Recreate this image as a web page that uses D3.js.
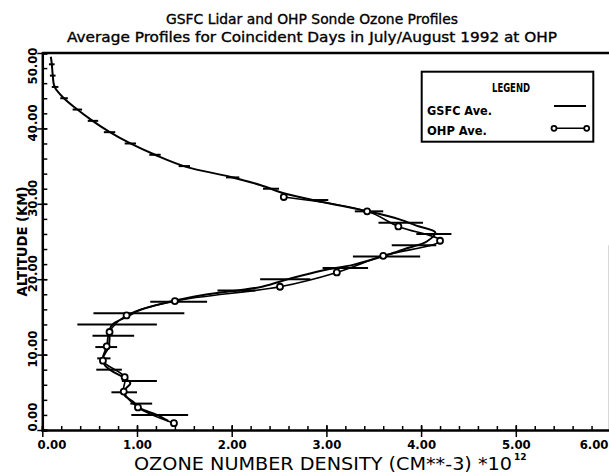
<!DOCTYPE html>
<html>
<head>
<meta charset="utf-8">
<script src="https://cdn.jsdelivr.net/npm/d3@7"></script>
<style>
  body { margin: 0; background: #fff; }
  svg { display: block; font-family: "DejaVu Sans", sans-serif; }
</style>
</head>
<body>
<svg id="chart" width="609" height="475"></svg>
<script>
// GSFC lidar average profile: altitude (km) and ozone density (1e12 cm-3)
var gsfcAlt = [49.5, 48.6, 47.1, 45.5, 44.1, 42.7, 41.1, 39.6, 38.0, 36.5, 34.9, 33.6, 32.5, 31.4, 30.3, 29.0, 27.9, 27.1, 26.2, 25.0, 24.1, 23.2, 21.9, 21.2, 20.1, 19.0, 17.9, 16.9, 15.9, 15.0, 14.1, 13.3, 12.2, 11.0, 9.5, 8.6, 7.7, 6.9, 6.2, 5.3, 4.6, 3.75, 2.9, 2.0, 1.2];
var gsfcVal = [0.09, 0.10, 0.11, 0.13, 0.22, 0.35, 0.52, 0.70, 0.93, 1.19, 1.52, 1.98, 2.30, 2.55, 2.93, 3.44, 3.78, 3.95, 4.15, 4.06, 3.85, 3.64, 3.28, 2.97, 2.62, 2.32, 1.70, 1.31, 1.03, 0.89, 0.75, 0.71, 0.71, 0.70, 0.64, 0.66, 0.75, 0.87, 0.93, 0.87, 0.87, 0.96, 1.03, 1.21, 1.33];

// OHP sonde average profile
var ohpAlt = [30.9, 29.0, 27.0, 25.1, 23.1, 20.9, 19.0, 17.1, 15.2, 13.0, 11.1, 9.2, 7.0, 5.1, 3.0, 0.9];
var ohpVal = [2.55, 3.43, 3.76, 4.20, 3.60, 3.11, 2.51, 1.40, 0.89, 0.71, 0.68, 0.64, 0.87, 0.86, 1.01, 1.39];

// horizontal error bars
var errAlt = [48.5, 47.0, 45.5, 44.0, 42.5, 41.0, 39.5, 38.0, 36.5, 35.0, 33.5, 32.0, 30.5, 29.0, 27.5, 26.0, 24.5, 23.0, 21.5, 20.0, 18.5, 17.0, 15.5, 14.0, 12.5, 11.0, 9.5, 8.0, 6.5, 5.0, 3.5, 2.0];
var errLo  = [0.07, 0.08, 0.10, 0.19, 0.32, 0.48, 0.65, 0.87, 1.13, 1.44, 1.94, 2.33, 2.81, 3.30, 3.55, 3.95, 3.69, 3.28, 2.96, 2.30, 1.85, 1.14, 0.54, 0.37, 0.53, 0.56, 0.58, 0.57, 0.84, 0.73, 0.93, 0.94];
var errHi  = [0.13, 0.14, 0.17, 0.27, 0.42, 0.59, 0.77, 0.99, 1.25, 1.56, 2.08, 2.50, 3.02, 3.60, 4.02, 4.32, 4.16, 3.99, 3.44, 2.83, 2.25, 1.74, 1.50, 1.21, 0.97, 0.79, 0.72, 0.84, 1.21, 1.00, 1.16, 1.54];

var xTicks = [0, 1, 2, 3, 4, 5, 6];
var yTicks = [0, 10, 20, 30, 40, 50];
var titleLines = ["GSFC Lidar and OHP Sonde Ozone Profiles",
                  "Average Profiles for Coincident Days in July/August 1992 at OHP"];
var xTitle = "OZONE NUMBER DENSITY (CM**-3) *10";
var xTitleExp = "12";
var yTitle = "ALTITUDE (KM)";
var legendNames = ["GSFC Ave.", "OHP Ave."];

var svg = d3.select("#chart");
var x = d3.scaleLinear().domain([0, 6]).range([42.3, 610.5]);
var y = d3.scaleLinear().domain([0, 50]).range([430, 53]);
var fmt = d3.format(".2f");
var tickFont = '"DejaVu Sans Condensed", "DejaVu Sans", sans-serif';

// titles
var titleY = [24, 41.5], titleW = [292, 490];
titleLines.forEach(function(t, i) {
  svg.append("text")
    .attr("x", 312).attr("y", titleY[i])
    .attr("text-anchor", "middle")
    .attr("font-size", "14px")
    .attr("stroke", "#000").attr("stroke-width", 0.35)
    .attr("textLength", titleW[i])
    .attr("lengthAdjust", "spacingAndGlyphs")
    .text(t);
});

// frame: top line and faint right edge
svg.append("line")
  .attr("x1", x(0)).attr("x2", 609)
  .attr("y1", y(50)).attr("y2", y(50))
  .attr("stroke", "#000").attr("stroke-width", 2.5);
svg.append("line")
  .attr("x1", 608.5).attr("x2", 608.5)
  .attr("y1", y(24.5)).attr("y2", y(0))
  .attr("stroke", "#d8d8d8").attr("stroke-width", 1);

// error bars
var errData = errAlt.map(function(a, i) { return {alt: a, lo: errLo[i], hi: errHi[i]}; });
svg.append("g").selectAll("line")
  .data(errData)
  .enter().append("line")
  .attr("x1", function(d) { return x(d.lo); })
  .attr("x2", function(d) { return x(d.hi); })
  .attr("y1", function(d) { return y(d.alt); })
  .attr("y2", function(d) { return y(d.alt); })
  .attr("stroke", "#000").attr("stroke-width", 2);

// profiles
var gsfc = gsfcAlt.map(function(a, i) { return {alt: a, v: gsfcVal[i]}; });
var ohp = ohpAlt.map(function(a, i) { return {alt: a, v: ohpVal[i]}; });
var line = d3.line()
  .x(function(d) { return x(d.v); })
  .y(function(d) { return y(d.alt); })
  .curve(d3.curveCatmullRom.alpha(0.5));

svg.append("path").datum(gsfc)
  .attr("d", line)
  .attr("fill", "none").attr("stroke", "#000").attr("stroke-width", 2);

svg.append("path").datum(ohp)
  .attr("d", line)
  .attr("fill", "none").attr("stroke", "#000").attr("stroke-width", 1.6);

svg.append("g").selectAll("circle")
  .data(ohp)
  .enter().append("circle")
  .attr("cx", function(d) { return x(d.v); })
  .attr("cy", function(d) { return y(d.alt); })
  .attr("r", 3)
  .attr("fill", "#fff").attr("stroke", "#000").attr("stroke-width", 1.8);

// x axis: minor ticks inside, major ticks crossing
var xMinor = svg.append("g")
  .attr("transform", "translate(0," + y(0) + ")")
  .call(d3.axisBottom(x).tickValues(d3.range(0, 6.01, 0.2)).tickSize(-4).tickFormat(""));
xMinor.select(".domain").attr("stroke-width", 2.5);
xMinor.selectAll(".tick line").attr("stroke-width", 1.5);

var xMajor = svg.append("g")
  .attr("transform", "translate(0," + y(0) + ")")
  .call(d3.axisBottom(x).tickValues(xTicks).tickSize(7).tickPadding(6).tickFormat(fmt));
xMajor.select(".domain").remove();
xMajor.selectAll(".tick line").attr("y1", -5).attr("stroke-width", 1.5);
xMajor.selectAll(".tick text")
  .attr("font-family", tickFont).attr("font-size", "13px").attr("font-weight", "bold")
  .attr("fill", "#000")
  .each(function(d) {
    var w = this.getComputedTextLength();
    var cx = Math.max(x(d), 37 + w / 2);
    cx = Math.min(cx, 608 - w / 2);
    d3.select(this).attr("x", cx - x(d)).attr("y", 10);
  });

// y axis
var yMinor = svg.append("g")
  .attr("transform", "translate(" + x(0) + ",0)")
  .call(d3.axisLeft(y).tickValues(d3.range(0, 50.01, 2)).tickSize(-5).tickFormat(""));
yMinor.select(".domain").attr("stroke-width", 2.5);
yMinor.selectAll(".tick line").attr("stroke-width", 1.5);

var yMajor = svg.append("g")
  .attr("transform", "translate(" + x(0) + ",0)")
  .call(d3.axisLeft(y).tickValues(yTicks).tickSize(5).tickFormat(fmt));
yMajor.select(".domain").remove();
yMajor.selectAll(".tick line").attr("x1", 5).attr("stroke-width", 1.5);
yMajor.selectAll(".tick text")
  .attr("font-family", tickFont).attr("font-size", "13px").attr("font-weight", "bold")
  .attr("fill", "#000")
  .attr("text-anchor", "middle")
  .each(function(d) {
    var w = this.getComputedTextLength();
    var cy = y(d) - 6;
    cy = Math.max(cy, 47 + w / 2);
    cy = Math.min(cy, 431 - w / 2);
    d3.select(this)
      .attr("x", null).attr("dy", null).attr("y", null)
      .attr("transform", "translate(-5," + (cy - y(d)) + ") rotate(-90)");
  });

// axis titles
svg.append("text")
  .attr("x", 134).attr("y", 470)
  .attr("font-size", "17px")
  .attr("textLength", 378)
  .attr("lengthAdjust", "spacingAndGlyphs")
  .text(xTitle);
svg.append("text")
  .attr("x", 514).attr("y", 460)
  .attr("font-size", "9px").attr("font-weight", "bold")
  .text(xTitleExp);

svg.append("text")
  .attr("transform", "translate(27," + ((y(0) + y(50)) / 2) + ") rotate(-90)")
  .attr("text-anchor", "middle")
  .attr("font-size", "14px").attr("font-weight", "bold")
  .attr("textLength", 110)
  .attr("lengthAdjust", "spacingAndGlyphs")
  .text(yTitle);

// legend
var lg = svg.append("g");
lg.append("rect")
  .attr("x", 421.7).attr("y", 71.7).attr("width", 171.6).attr("height", 70)
  .attr("fill", "#fff").attr("stroke", "#000").attr("stroke-width", 2);
lg.append("text")
  .attr("x", 511).attr("y", 92)
  .attr("text-anchor", "middle")
  .attr("font-family", tickFont).attr("font-size", "13px").attr("font-weight", "bold")
  .attr("textLength", 38).attr("lengthAdjust", "spacingAndGlyphs")
  .text("LEGEND");
var lgY = [115, 135], lgW = [65, 60];
legendNames.forEach(function(n, i) {
  lg.append("text")
    .attr("x", 427).attr("y", lgY[i])
    .attr("font-family", tickFont).attr("font-size", "12px").attr("font-weight", "bold")
    .attr("textLength", lgW[i]).attr("lengthAdjust", "spacingAndGlyphs")
    .text(n);
});
lg.append("line")
  .attr("x1", 554).attr("x2", 586).attr("y1", 106).attr("y2", 106)
  .attr("stroke", "#000").attr("stroke-width", 2);
lg.append("line")
  .attr("x1", 554).attr("x2", 586.7).attr("y1", 128.3).attr("y2", 128.3)
  .attr("stroke", "#000").attr("stroke-width", 1.6);
lg.selectAll("circle.lg")
  .data([554, 586.7])
  .enter().append("circle")
  .attr("cx", function(d) { return d; }).attr("cy", 128.3).attr("r", 2.5)
  .attr("fill", "#fff").attr("stroke", "#000").attr("stroke-width", 1.8);
</script>
</body>
</html>
